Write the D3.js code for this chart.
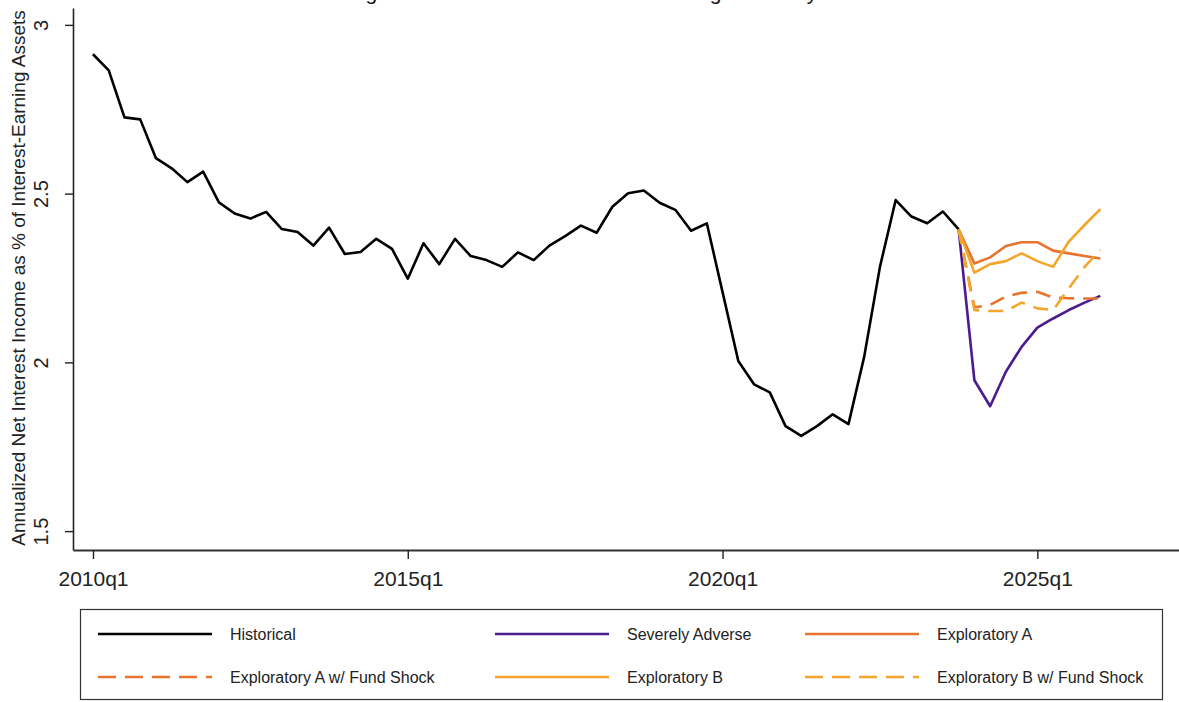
<!DOCTYPE html>
<meta charset="utf-8">
<script src="https://d3js.org/d3.v7.min.js"></script>
<style>
  body { margin: 0; background: #fff; }
  text { font-family: "Liberation Sans", Arial, sans-serif; }
</style>
<div id="chart"></div>
<script>
  // quarters are counted from 2010q1 (= 0)
  var histQuarters = d3.range(0, 56);
  var historical = [2.913, 2.865, 2.726, 2.720, 2.605, 2.575, 2.534, 2.565, 2.474, 2.441,
    2.426, 2.446, 2.395, 2.386, 2.346, 2.399, 2.321, 2.327, 2.366, 2.336,
    2.248, 2.353, 2.291, 2.366, 2.315, 2.303, 2.283, 2.326, 2.303, 2.346,
    2.374, 2.405, 2.384, 2.461, 2.501, 2.509, 2.473, 2.452, 2.390, 2.412,
    2.208, 2.004, 1.935, 1.911, 1.811, 1.782, 1.811, 1.846, 1.817, 2.017,
    2.283, 2.481, 2.432, 2.412, 2.447, 2.394];

  // projections start from the last historical quarter (2023q4)
  var projQuarters = d3.range(55, 65);
  var severelyAdverse = [2.394, 1.947, 1.870, 1.972, 2.046, 2.103, 2.130, 2.155, 2.177, 2.197];
  var exploratoryA = [2.394, 2.293, 2.311, 2.345, 2.356, 2.356, 2.331, 2.323, 2.315, 2.308];
  var exploratoryAShock = [2.394, 2.163, 2.170, 2.195, 2.206, 2.209, 2.192, 2.190, 2.189, 2.189];
  var exploratoryB = [2.394, 2.266, 2.291, 2.300, 2.323, 2.300, 2.283, 2.358, 2.407, 2.454];
  var exploratoryBShock = [2.394, 2.155, 2.152, 2.152, 2.177, 2.160, 2.155, 2.219, 2.283, 2.333];

  var yTicks = [1.5, 2, 2.5, 3];
  var xTicks = [0, 20, 40, 60];
  var xTickLabels = ["2010q1", "2015q1", "2020q1", "2025q1"];

  var width = 1179, height = 702;

  var svg = d3.select("#chart")
    .append("svg")
    .attr("width", width)
    .attr("height", height);

  var x = d3.scaleLinear().domain([-1.27, 69]).range([73, 1179]);
  var y = d3.scaleLinear().domain([1.444, 3.05]).range([550, 8]);

  var series = [
    { name: "Historical", qs: histQuarters, vals: historical, color: "#000000", dash: null },
    { name: "Severely Adverse", qs: projQuarters, vals: severelyAdverse, color: "#4b1c8f", dash: null },
    { name: "Exploratory A", qs: projQuarters, vals: exploratoryA, color: "#e8732e", dash: null },
    { name: "Exploratory A w/ Fund Shock", qs: projQuarters, vals: exploratoryAShock, color: "#e8732e", dash: "15,9" },
    { name: "Exploratory B", qs: projQuarters, vals: exploratoryB, color: "#f4a52a", dash: null },
    { name: "Exploratory B w/ Fund Shock", qs: projQuarters, vals: exploratoryBShock, color: "#f4a52a", dash: "15,9" }
  ];

  // title: the original image is cropped so only its descenders show
  svg.append("text")
    .attr("x", 348)
    .attr("y", 0)
    .style("font-size", "21px")
    .style("fill", "#111")
    .text("Figure 9. Net Interest Income to Earning Assets by Scenario");

  // y axis
  var yAxis = svg.append("g")
    .attr("transform", "translate(73,0)")
    .call(d3.axisLeft(y).tickValues(yTicks).tickSize(8).tickSizeOuter(0)
      .tickFormat(function (d) { return d; }));
  yAxis.select(".domain").attr("stroke", "#222").attr("stroke-width", 1.6);
  yAxis.selectAll(".tick line").attr("stroke", "#222").attr("stroke-width", 1.4);
  yAxis.selectAll(".tick text")
    .attr("transform", "rotate(-90)")
    .attr("x", 0)
    .attr("y", -25)
    .attr("dy", 0)
    .attr("text-anchor", "middle")
    .style("font-size", "20px")
    .style("fill", "#222");

  // x axis
  var xAxis = svg.append("g")
    .attr("transform", "translate(0,550)")
    .call(d3.axisBottom(x).tickValues(xTicks).tickSize(9).tickSizeOuter(0)
      .tickFormat(function (d, i) { return xTickLabels[i]; }));
  xAxis.select(".domain").attr("stroke", "#333").attr("stroke-width", 2);
  xAxis.selectAll(".tick line").attr("stroke", "#222").attr("stroke-width", 1.4);
  xAxis.selectAll(".tick text")
    .attr("y", 21)
    .style("font-size", "21px")
    .style("fill", "#222");

  // y axis title
  svg.append("text")
    .attr("transform", "translate(25,278) rotate(-90)")
    .attr("text-anchor", "middle")
    .style("font-size", "19px")
    .style("fill", "#222")
    .text("Annualized Net Interest Income as % of Interest-Earning Assets");

  // lines
  var line = d3.line()
    .x(function (d) { return x(d[0]); })
    .y(function (d) { return y(d[1]); });

  svg.selectAll(".series")
    .data(series)
    .enter()
    .append("path")
    .attr("class", "series")
    .attr("fill", "none")
    .attr("stroke", function (d) { return d.color; })
    .attr("stroke-width", 2.6)
    .attr("stroke-linejoin", "round")
    .attr("stroke-dasharray", function (d) { return d.dash; })
    .attr("d", function (d) {
      return line(d.qs.map(function (q, i) { return [q, d.vals[i]]; }));
    });

  // legend
  var legend = svg.append("g");
  legend.append("rect")
    .attr("x", 80.5)
    .attr("y", 609.5)
    .attr("width", 1082)
    .attr("height", 90)
    .attr("fill", "none")
    .attr("stroke", "#333")
    .attr("stroke-width", 1.2);

  var colX = [98, 495, 805];
  var rowY = [634, 677];
  var items = legend.selectAll(".item")
    .data(series)
    .enter()
    .append("g")
    .attr("class", "item")
    .attr("transform", function (d, i) {
      return "translate(" + colX[i % 3] + "," + rowY[Math.floor(i / 3)] + ")";
    });
  items.append("line")
    .attr("x1", 0).attr("x2", 114)
    .attr("stroke", function (d) { return d.color; })
    .attr("stroke-width", 2.6)
    .attr("stroke-dasharray", function (d) { return d.dash ? "18,9" : null; });
  items.append("text")
    .attr("x", 132)
    .attr("dy", "0.35em")
    .style("font-size", "16px")
    .style("fill", "#222")
    .text(function (d) { return d.name; });
</script>
